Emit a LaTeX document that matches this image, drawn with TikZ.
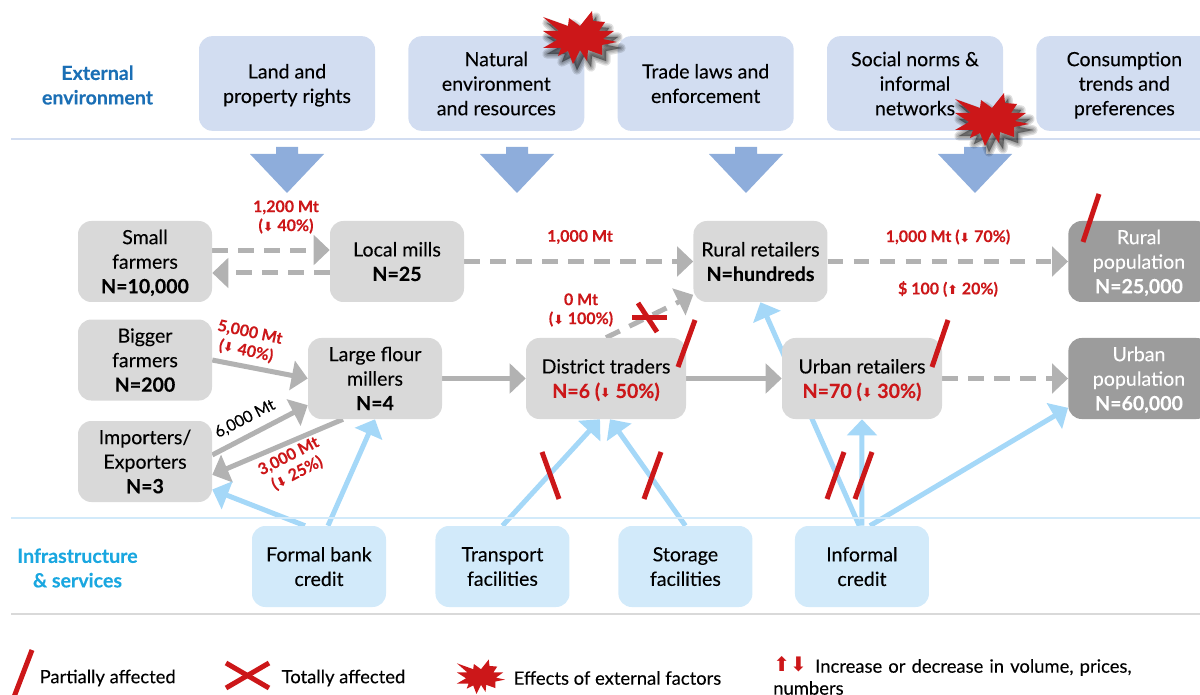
\documentclass[tikz,border=0pt]{standalone}
\usepackage{fontspec}
\usepackage{xcolor}
\usepackage{tikz}
\usetikzlibrary{arrows.meta,backgrounds}
\setmainfont{Lato}[FakeBold=0.12]
\newfontfamily\arrowfont{DejaVu Sans}

\definecolor{extfill}{HTML}{D2DDF1}
\definecolor{inffill}{HTML}{D2EAFA}
\definecolor{actorfill}{HTML}{D9D9D9}
\definecolor{popfill}{HTML}{9C9C9C}
\definecolor{flowgrey}{HTML}{B2B2B2}
\definecolor{feedblue}{HTML}{A5D8F8}
\definecolor{blockblue}{HTML}{8EADDB}
\definecolor{alertred}{HTML}{CC1719}
\definecolor{exttitle}{HTML}{1B6FB5}
\definecolor{inftitle}{HTML}{1AA7E0}

\newcommand{\dnmark}{{\arrowfont\fontsize{9.5}{9.5}\selectfont ⬇}}
\newcommand{\upmark}{{\arrowfont\fontsize{9.5}{9.5}\selectfont ⬆}}
\newcommand{\burstpath}{(-37,-21) -- (-12,-12) -- (-11,-20) -- (0,-12) -- (12,-27) -- (13,-17) -- (25,-16) -- (19,-7) -- (34,-7) -- (23,1) -- (37,4) -- (22,7) -- (22,17) -- (8,12) -- (7,23) -- (0,12) -- (-7,26) -- (-12,13) -- (-22,18) -- (-19,10) -- (-37,10) -- (-23,2) -- (-37,-7) -- (-21,-7) -- cycle}

\tikzset{
  basebox/.style={rectangle, rounded corners=10pt, minimum width=100.5pt, minimum height=60.75pt, inner sep=0pt, align=center, font=\fontsize{14.7}{18.4}\selectfont, text depth=-2.8pt},
  extbox/.style={basebox, fill=extfill, minimum width=132pt, minimum height=71pt},
  actorbox/.style={basebox, fill=actorfill},
  widebox/.style={actorbox, minimum width=120pt},
  popbox/.style={basebox, fill=popfill, text=white, minimum width=106pt},
  infbox/.style={basebox, fill=inffill},
  flow/.style={draw=flowgrey, line width=3.75pt, -{Triangle[length=12pt,width=22pt]}},
  flowdash/.style={flow, dash pattern=on 11.5pt off 8pt},
  feed/.style={draw=feedblue, line width=3.75pt, -{Triangle[length=12pt,width=22pt]}},
  partial/.style={draw=alertred, line width=3.75pt},
  redlabel/.style={text=alertred, align=center, font=\fontsize{12}{14.2}\selectfont\bfseries},
  legendtext/.style={anchor=west, font=\fontsize{13.8}{16.5}\selectfont},
  titlelabel/.style={align=center, font=\fontsize{14.7}{18.4}\selectfont\bfseries},
  burst/.pic={
    \foreach \w in {7,5,3,1} {\fill[black, opacity=.12, draw=black, line join=round, line width=\w pt] [shift={(4,6)}] \burstpath;}
    \fill[alertred] \burstpath;
  },
  flatburst/.pic={\fill[alertred] \burstpath;}
}

\begin{document}
\begin{tikzpicture}[x=.75pt, y=-.75pt]
    \useasboundingbox (0,0) rectangle (1200,695);

    % Section rules
    \draw[extfill, line width=2.2pt] (11,139) -- (1200,139);
    \draw[inffill, line width=2.2pt] (11,518) -- (1200,518);
    \draw[actorfill, line width=2.2pt] (11,614) -- (1200,614);

    % External environment
    \node[exttitle, titlelabel] (exttitle) at (97.5,85) {External\\environment};
    \node[extbox] (land) at (287,83.5) {Land and\\property rights};
    \node[extbox, right of=land, node distance=157pt] (natural) {Natural\\environment\\and resources};
    \node[extbox, right of=natural, node distance=157pt] (trade) {Trade laws and\\enforcement};
    \node[extbox, right of=trade, node distance=157pt] (social) {Social norms \&\\informal\\networks};
    \node[extbox, right of=social, node distance=157pt] (consumption) {Consumption\\trends and\\preferences};

    % Block arrows
    \foreach \x in {287,517,746,975} {
        \fill[blockblue] (\x-11,147) -- (\x+11,147) -- (\x+11,154) -- (\x+37,154) -- (\x,193) -- (\x-37,154) -- (\x-11,154) -- cycle;
    }

    % Top chain
    \node[actorbox] (small) at (145,261.5) {Small\\farmers\\\textbf{N=10,000}};
    \node[actorbox, right of=small, node distance=189pt] (local) {Local mills\\\textbf{N=25}};
    \node[actorbox, right of=local, node distance=272.6pt] (rural) {Rural retailers\\\textbf{N=hundreds}};
    \node[popbox, right of=rural, node distance=283.9pt] (ruralpop) {Rural\\population\\\textbf{N=25,000}};

    % Lower chain
    \node[actorbox, below of=small, node distance=73.9pt] (bigger) {Bigger\\farmers\\\textbf{N=200}};
    \node[actorbox, below of=bigger, node distance=76.1pt] (importers) {Importers/\\Exporters\\\textbf{N=3}};
    \node[actorbox] (large) at (375,378.5) {Large flour\\millers\\\textbf{N=4}};
    \node[widebox, right of=large, node distance=173.25pt] (district) {District traders\\\textbf{\textcolor{alertred}{N=6 (\dnmark{} 50\%)}}};
    \node[widebox, right of=district, node distance=192pt] (urban) {Urban retailers\\\textbf{\textcolor{alertred}{N=70 (\dnmark{} 30\%)}}};
    \node[popbox, right of=urban, node distance=207.75pt] (urbanpop) {Urban\\population\\\textbf{N=60,000}};

    % Infrastructure and services
    \node[inftitle, titlelabel] (inftitle) at (77.5,568) {Infrastructure\\\& services};
    \node[infbox] (formal) at (319,566.5) {Formal bank\\credit};
    \node[infbox, right of=formal, node distance=137.6pt] (transport) {Transport\\facilities};
    \node[infbox, right of=transport, node distance=137.2pt] (storage) {Storage\\facilities};
    \node[infbox, right of=storage, node distance=132.4pt] (informal) {Informal\\credit};

    % Arrows
    \begin{scope}[on background layer]
        \draw[flowdash] ([yshift=8.6pt]small.east) -- ([yshift=8.6pt]local.west);
        \draw[flowdash] ([yshift=-8.6pt]local.west) -- ([yshift=-8.6pt]small.east);
        \draw[flowdash] (local) -- (rural);
        \draw[flowdash] (rural) -- (ruralpop);
        \draw[flowdash] (urban) -- (urbanpop);
        \draw[flowdash] (district.north) -- ([yshift=-25pt]rural.west);
        \draw[flow] (large) -- (district);
        \draw[flow] (district) -- (urban);
        \draw[flow] (bigger.east) -- (large.west);
        \draw[flow] ([yshift=4.9pt]importers.east) -- ([yshift=-20pt]large.west);
        \draw[flow] ([xshift=-24pt]large.south) -- ([yshift=-10pt]importers.east);
        \draw[feed] ([xshift=-10.5pt]formal.north) -- ([yshift=-21pt]importers.east);
        \draw[feed] ([xshift=6.75pt]formal.north) -- (large.south);
        \draw[feed] (transport.north) -- ([xshift=-4.5pt]district.south);
        \draw[feed] (storage.north) -- ([xshift=3pt]district.south);
        \draw[feed] ([xshift=-2pt]informal.north) -- (rural.south);
        \draw[feed] (informal.north) -- (urban.south);
        \draw[feed] ([xshift=6pt]informal.north) -- ([yshift=-22pt]urbanpop.west);
    \end{scope}

    % Flow labels
    \node[redlabel] (lblsmall) at (286,217) {1,200 Mt\\(\dnmark{} 40\%)};
    \node[redlabel] (lbllocal) at (580,237) {1,000 Mt};
    \node[redlabel] (lblrural) at (948,237) {1,000 Mt (\dnmark{} 70\%)};
    \node[redlabel] (lblprice) at (948,289) {\$ 100 (\upmark{} 20\%)};
    \node[redlabel] (lblzero) at (581,310) {0 Mt\\(\dnmark{} 100\%)};
    \node[redlabel, rotate=-12] (lblbigger) at (248,342) {5,000 Mt\\(\dnmark{} 40\%)};
    \node[rotate=27, font=\fontsize{12}{14.2}\selectfont] (lblimport) at (245,419) {6,000 Mt};
    \node[redlabel, rotate=27] (lblexport) at (293,465) {3,000 Mt\\(\dnmark{} 25\%)};

    % Partial and total effects
    \draw[partial] (1099,194) -- (1083,242);
    \draw[partial] (695,320) -- (678,367);
    \draw[partial] (948,320) -- (932,367);
    \draw[partial] (542,452) -- (559,499);
    \draw[partial] (661,452) -- (644,499);
    \draw[partial] (844,452) -- (827,499);
    \draw[partial] (872,452) -- (855,499);
    \draw[partial] (632,318) -- (667,318);
    \draw[partial] (638,303) -- (657,332);

    % External shocks
    \pic at (580,38) {burst};
    \pic at (992,120) {burst};

    % Legend
    \draw[partial] (32,650) -- (14,697);
    \node[legendtext] (lgdpartial) at (35,678) {Partially affected};
    \draw[partial] (226,663) -- (269,688);
    \draw[partial] (269,663) -- (226,688);
    \node[legendtext] (lgdtotal) at (277,678) {Totally affected};
    \pic[scale=.65] at (481,677) {flatburst};
    \node[legendtext] (lgdburst) at (509,678) {Effects of external factors};
    \node[anchor=west, text=alertred, font=\arrowfont\fontsize{15}{15}\selectfont, inner sep=0pt] (lgdarrows) at (773,664) {⬆⬇};
    \node[legendtext, inner sep=0pt, text width=280pt, align=left] (lgdarrowtext) at (773,677) {\hspace*{31.5pt}Increase or decrease in volume, prices,\\numbers};
\end{tikzpicture}
\end{document}
